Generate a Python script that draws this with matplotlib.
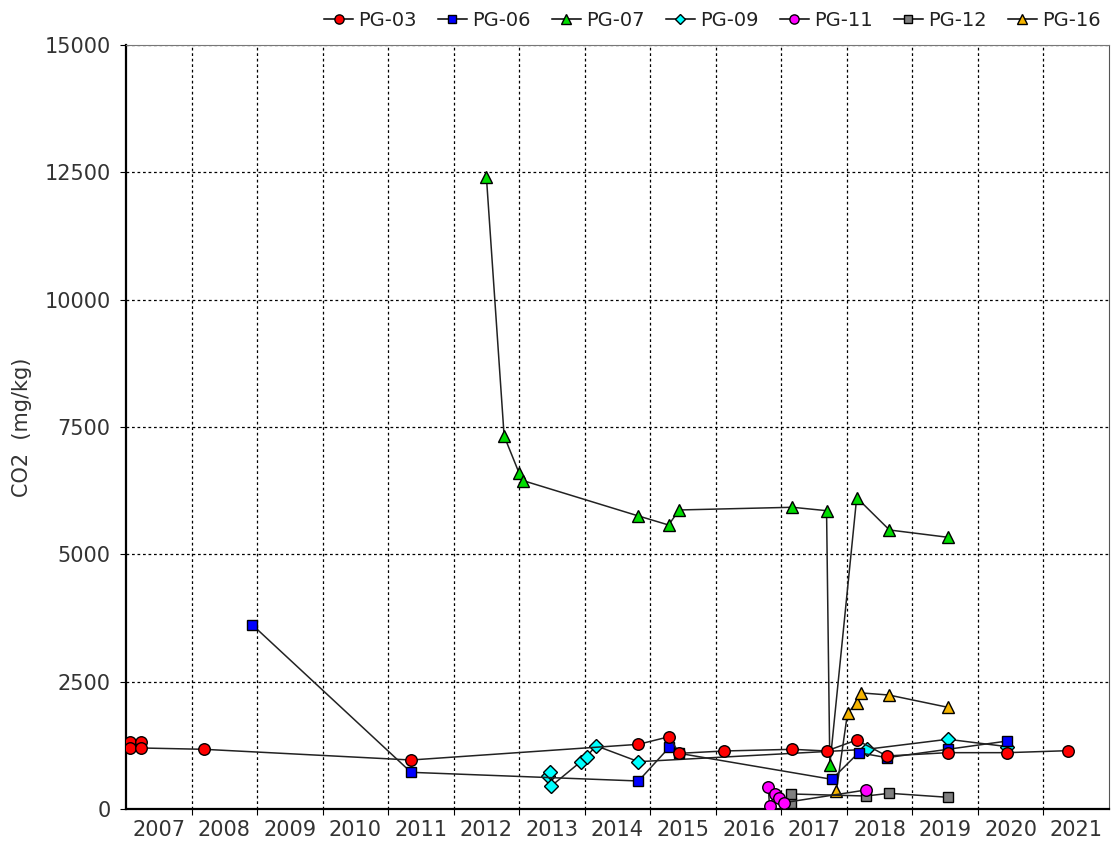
import numpy as np
import matplotlib
matplotlib.use("Agg")
import matplotlib.pyplot as plt

# ─── Data (decimal year, CO2 mg/kg) ───────────────────────────────────────────
pg03_x = [2007.06, 2007.06, 2007.23, 2007.23, 2008.19, 2011.35, 2014.82, 2015.29,
          2015.44, 2016.13, 2017.17, 2017.69, 2018.15, 2018.61, 2019.54, 2020.45, 2021.37]
pg03_y = [1316, 1198, 1316, 1198, 1172, 962, 1270, 1420,
          1093, 1139, 1172, 1139, 1355, 1041, 1106, 1106, 1145]

pg06_x = [2008.93, 2011.35, 2014.82, 2015.29, 2015.44, 2017.77, 2018.18, 2018.61, 2019.54, 2020.45]
pg06_y = [3613, 720, 550, 1211, 1093, 583, 1106, 1008, 1172, 1335]

pg07_x = [2012.50, 2012.77, 2013.00, 2013.06, 2014.82, 2015.28, 2015.44,
          2017.17, 2017.69, 2017.74, 2018.15, 2018.65, 2019.54]
pg07_y = [12400, 7324, 6591, 6447, 5753, 5576, 5871,
          5924, 5857, 864, 6113, 5478, 5335]

pg09_x = [2013.44, 2013.47, 2013.49, 2013.94, 2014.03, 2014.17, 2014.82, 2018.30, 2019.54, 2020.45]
pg09_y = [640, 733, 452, 929, 1027, 1243, 929, 1172, 1369, 1224]

pg11_x = [2016.80, 2016.82, 2016.90, 2016.97, 2017.04, 2018.29]
pg11_y = [438, 59, 295, 210, 124, 373]

pg12_x = [2017.14, 2017.15, 2018.29, 2018.65, 2019.54]
pg12_y = [112, 295, 255, 308, 230]

pg16_x = [2017.84, 2018.01, 2018.15, 2018.21, 2018.64, 2019.54]
pg16_y = [360, 1880, 2087, 2280, 2238, 1997]

series = [
    ("PG-03", pg03_x, pg03_y, "o", "#ff0000"),
    ("PG-06", pg06_x, pg06_y, "s", "#0000ff"),
    ("PG-07", pg07_x, pg07_y, "^", "#00dd00"),
    ("PG-09", pg09_x, pg09_y, "D", "#00ffff"),
    ("PG-11", pg11_x, pg11_y, "o", "#ff00ff"),
    ("PG-12", pg12_x, pg12_y, "s", "#808080"),
    ("PG-16", pg16_x, pg16_y, "^", "#f5b400"),
]
years = list(range(2007, 2022))
y_ticks = [0, 2500, 5000, 7500, 10000, 12500, 15000]

# ─── Figure ───────────────────────────────────────────────────────────────────
fig = plt.figure(figsize=(11.2, 8.43), dpi=100)
ax = fig.add_axes([126 / 1120, 34 / 843, (1109 - 126) / 1120, (809 - 45) / 843])

sizes = {"o": 8.3, "s": 7.8, "^": 9.0, "D": 7.0}
handles = []
for i, (name, xs, ys, mk, col) in enumerate(series):
    z = 20 - i
    ax.plot(xs, ys, color="#222222", lw=1.1, zorder=z)
    ax.plot(xs, ys, ls="none", marker=mk, ms=sizes[mk], mfc=col, mec="black",
            mew=1.0, zorder=z + 0.5)
    h, = ax.plot([], [], color="black", lw=1.1, marker=mk, ms=sizes[mk] * 0.8,
                 mfc=col, mec="black", mew=1.0, label=name)
    handles.append(h)

ax.set_xlim(2007.0, 2022.0)
ax.set_ylim(0, 15000)
ax.set_yticks(y_ticks)
ax.set_yticklabels([str(v) for v in y_ticks])

# year boundaries carry ticks/grid, labels sit mid-year
ax.set_xticks([y + 1 for y in years[:-1]])
ax.set_xticklabels([])
ax.set_xticks([y + 0.5 for y in years], minor=True)
ax.set_xticklabels([str(y) for y in years], minor=True)
ax.tick_params(axis="x", which="minor", length=0, pad=8, labelsize=15, labelcolor="#333333")
ax.tick_params(axis="x", which="major", length=4, direction="out")
ax.tick_params(axis="y", length=4, pad=7, labelsize=15, labelcolor="#333333")

ax.grid(True, which="major", color="black", lw=0.9, ls=(0, (2.2, 2.2)))
ax.set_axisbelow(True)

ax.spines["left"].set_linewidth(1.6)
ax.spines["bottom"].set_linewidth(1.6)
ax.spines["top"].set_color("#777777")
ax.spines["right"].set_color("#555555")

ax.set_ylabel("CO2  (mg/kg)", fontsize=15, color="#333333", labelpad=9)

fig.legend(handles=handles, loc="upper right", bbox_to_anchor=(1114 / 1120, 1.003),
           ncol=7, frameon=False, fontsize=14, handlelength=1.5, handletextpad=0.25,
           columnspacing=1.1, borderaxespad=0.3, labelcolor="#222222")

fig.savefig("out.png", dpi=100)
